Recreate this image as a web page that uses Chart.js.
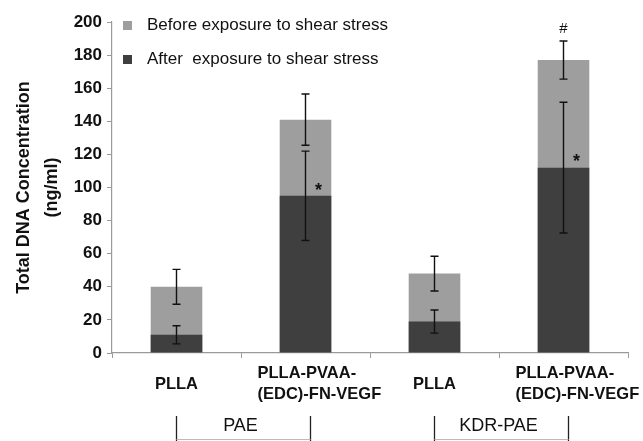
<!DOCTYPE html>
<html>
<head>
<meta charset="utf-8">
<script src="https://cdn.jsdelivr.net/npm/chart.js@4.4.0/dist/chart.umd.min.js"></script>
<style>
    html, body { margin: 0; padding: 0; background: #fff; }
    #wrap { width: 643px; height: 441px; }
</style>
</head>
<body>
<div id="wrap"><canvas id="dnaChart"></canvas></div>
<script>
// Substrates, shown twice (PAE and KDR-PAE cells)
const categories = [
    ['PLLA'],
    ['PLLA-PVAA-', '(EDC)-FN-VEGF'],
    ['PLLA'],
    ['PLLA-PVAA-', '(EDC)-FN-VEGF']
];

// Total DNA (ng/ml) and +/- error
const beforeValues = [40, 141, 48, 177];
const beforeErrors = [10.5, 15.5, 10.5, 11.5];
const afterValues = [11, 95, 19, 112];
const afterErrors = [5.5, 27, 7, 39.5];

// significance markers: value at which the mark sits (null = none)
const starMarks = [null, 100, null, 118];
const hashMarks = [null, null, null, 196];

// cell type groups under the axis (index range of categories)
const groupLabels = ['PAE', 'KDR-PAE'];
const groupStart = [0, 2];
const groupEnd = [1, 3];

const yMin = 0;
const yMax = 200;
const yStep = 20;

const BEFORE_COLOR = '#9e9e9e';
const AFTER_COLOR = '#3f3f3f';
const AXIS_COLOR = '#9a9a9a';
const FONT = "'Liberation Sans', Arial, sans-serif";

const overlayPlugin = {
    id: 'overlay',
    afterDatasetsDraw(chart) {
        const ctx = chart.ctx;
        const xs = chart.scales.x;
        const ys = chart.scales.y;

        // error bars
        const drawErrors = (values, errors) => {
            values.forEach((v, i) => {
                const px = xs.getPixelForValue(i);
                const top = ys.getPixelForValue(v + errors[i]);
                const bot = ys.getPixelForValue(v - errors[i]);
                ctx.save();
                ctx.strokeStyle = '#111';
                ctx.lineWidth = 1.4;
                ctx.beginPath();
                ctx.moveTo(px, top); ctx.lineTo(px, bot);
                ctx.moveTo(px - 4, top); ctx.lineTo(px + 4, top);
                ctx.moveTo(px - 4, bot); ctx.lineTo(px + 4, bot);
                ctx.stroke();
                ctx.restore();
            });
        };
        drawErrors(beforeValues, beforeErrors);
        drawErrors(afterValues, afterErrors);

        // * and # markers
        ctx.save();
        ctx.fillStyle = '#111';
        ctx.textAlign = 'center';
        ctx.textBaseline = 'middle';
        ctx.font = 'bold 18px ' + FONT;
        starMarks.forEach((v, i) => {
            if (v === null) return;
            ctx.fillText('*', xs.getPixelForValue(i) + 13, ys.getPixelForValue(v) + 4);
        });
        ctx.font = '15px ' + FONT;
        hashMarks.forEach((v, i) => {
            if (v === null) return;
            ctx.fillText('#', xs.getPixelForValue(i), ys.getPixelForValue(v));
        });
        ctx.restore();
    },
    afterDraw(chart) {
        const ctx = chart.ctx;
        const xs = chart.scales.x;

        // category labels: single lines centred, wrapped ones left-aligned as a block
        ctx.save();
        ctx.fillStyle = '#111';
        ctx.font = 'bold 16.5px ' + FONT;
        ctx.textBaseline = 'middle';
        categories.forEach((lines, i) => {
            const cx = xs.getPixelForValue(i);
            if (lines.length === 1) {
                ctx.textAlign = 'center';
                ctx.fillText(lines[0], cx, 384);
            } else {
                ctx.textAlign = 'left';
                lines.forEach((t, k) => ctx.fillText(t, cx - 48, 373 + k * 21));
            }
        });
        ctx.restore();

        // legend inside the plot, top left
        const items = chart.data.datasets.slice().sort((a, b) => b.order - a.order);
        ctx.save();
        ctx.font = '17px ' + FONT;
        ctx.textBaseline = 'middle';
        items.forEach((ds, k) => {
            const cy = 25 + k * 34;
            ctx.fillStyle = ds.backgroundColor;
            ctx.fillRect(123, cy - 4, 9, 9);
            ctx.fillStyle = '#111';
            ctx.fillText(ds.label, 147, cy);
        });
        ctx.restore();

        // cell type brackets
        ctx.save();
        ctx.lineWidth = 1.3;
        ctx.fillStyle = '#111';
        ctx.font = '18px ' + FONT;
        ctx.textAlign = 'center';
        ctx.textBaseline = 'middle';
        groupLabels.forEach((label, g) => {
            const x0 = xs.getPixelForValue(groupStart[g]);
            const x1 = xs.getPixelForValue(groupEnd[g]) + 5;
            ctx.strokeStyle = '#222';
            ctx.beginPath();
            ctx.moveTo(x0, 416); ctx.lineTo(x0, 441);
            ctx.moveTo(x1, 416); ctx.lineTo(x1, 441);
            ctx.stroke();
            ctx.strokeStyle = '#bbb';
            ctx.lineWidth = 1;
            ctx.beginPath();
            ctx.moveTo(x0, 439.5); ctx.lineTo(x1, 439.5);
            ctx.stroke();
            ctx.lineWidth = 1.3;
            ctx.fillText(label, (x0 + x1) / 2 - 3, 426);
        });
        ctx.restore();
    }
};

const ctx = document.getElementById('dnaChart').getContext('2d');
new Chart(ctx, {
    type: 'bar',
    data: {
        labels: categories,
        datasets: [{
            label: 'Before exposure to shear stress',
            data: beforeValues,
            backgroundColor: BEFORE_COLOR,
            grouped: false,
            order: 1
        }, {
            label: 'After  exposure to shear stress',
            data: afterValues,
            backgroundColor: AFTER_COLOR,
            grouped: false,
            order: 0
        }]
    },
    options: {
        responsive: true,
        maintainAspectRatio: false,
        animation: false,
        barPercentage: 0.4,
        categoryPercentage: 1,
        layout: {
            padding: { top: 22, right: 15, left: 0, bottom: 0 }
        },
        plugins: {
            legend: { display: false },
            tooltip: { enabled: false }
        },
        scales: {
            x: {
                afterFit: (s) => { s.height = 88; },
                border: { color: AXIS_COLOR, width: 1.2 },
                grid: {
                    drawOnChartArea: false,
                    color: AXIS_COLOR,
                    tickLength: 5
                },
                ticks: { display: false }
            },
            y: {
                min: yMin,
                max: yMax,
                afterFit: (s) => { s.width = 112; },
                border: { color: AXIS_COLOR, width: 1.2 },
                grid: {
                    drawOnChartArea: false,
                    color: AXIS_COLOR,
                    tickLength: 5
                },
                ticks: {
                    stepSize: yStep,
                    color: '#111',
                    padding: 5,
                    font: { family: FONT, size: 17, weight: 'bold' }
                },
                title: {
                    display: true,
                    text: ['Total DNA Concentration', '(ng/ml)'],
                    color: '#111',
                    padding: { top: 10, bottom: 0 },
                    font: { family: FONT, size: 18, weight: 'bold', lineHeight: 1.55 }
                }
            }
        }
    },
    plugins: [overlayPlugin]
});
</script>
</body>
</html>
